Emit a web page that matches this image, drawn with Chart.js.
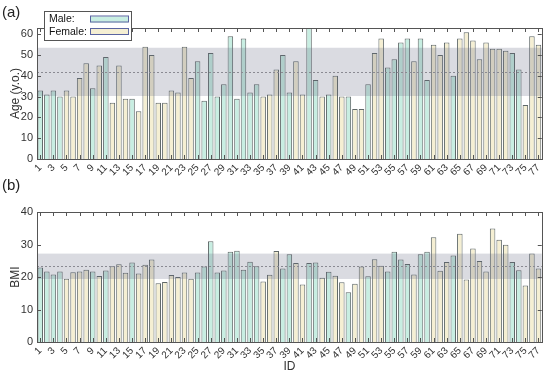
<!DOCTYPE html>
<html>
<head>
<meta charset="utf-8">
<script src="https://cdn.jsdelivr.net/npm/chart.js@4.4.1/dist/chart.umd.min.js"></script>
<style>
  body { margin: 0; background: #fff; }
  #wrap { position: relative; width: 550px; height: 375px; }
  canvas { position: absolute; left: 0; }
  #chartA { top: 0; }
  #chartB { top: 175px; }
</style>
</head>
<body>
<div id="wrap">
  <canvas id="chartA" width="550" height="187"></canvas>
  <canvas id="chartB" width="550" height="200"></canvas>
</div>
<script>
const ids = ['1','2','3','4','5','6','7','8','9','10','11','12','13','14','15','16','17','18','19','20',
  '21','22','23','24','25','26','27','28','29','30','31','32','33','34','35','36','37','38','39','40',
  '41','42','43','44','45','46','47','48','49','50','51','52','53','54','55','56','57','58','59','60',
  '61','62','63','64','65','66','67','68','69','70','71','72','73','74','75','76','77'];

// M = male, F = female
const sex = ['M','M','M','M','F','F','F','F','M','F','M','F','F','F','M','F','F','F','F','F',
  'F','F','F','F','M','M','M','M','M','M','M','M','M','M','F','F','F','M','M','F',
  'F','M','M','F','M','F','F','M','F','F','M','F','F','M','M','M','M','F','M','M',
  'F','F','F','M','F','F','F','F','F','F','F','F','M','M','F','F','F'];

const ageValues = [33,31,33,30,33,30,39,46,34,45,49,27,45,29,29,23,54,50,27,27,
  33,32,54,39,47,28,51,30,36,59,29,58,32,36,30,31,43,50,32,47,
  31,66,38,30,31,40,30,30,24,24,36,51,58,44,48,56,58,47,58,38,
  55,50,56,40,58,61,57,48,56,53,53,52,51,43,26,59,55];

const bmiValues = [22.9,21.7,20.8,21.7,19.5,21.5,21.7,22.2,21.7,20.3,
  22.0,23.3,23.9,21.3,24.5,21.1,23.8,25.4,18.1,18.5,
  20.6,20.0,21.4,19.5,21.4,23.2,31.0,21.4,22.0,27.8,
  28.1,22.2,24.7,23.3,18.6,20.7,28.0,22.6,27.0,24.3,
  17.7,24.3,24.5,19.8,21.6,20.4,18.4,15.3,17.9,23.2,
  20.2,25.5,23.5,21.7,27.8,25.4,24.0,20.8,27.0,27.8,
  32.2,21.9,24.6,26.6,33.3,19.2,28.8,24.9,21.7,34.9,
  31.5,29.9,24.6,22.1,17.4,27.2,22.6];

// mean and band (mean +/- sd)
const ageBand = [30.3, 41.9, 53.5];
const bmiBand = [19.4, 23.3, 27.2];

const ageTicks = [0, 10, 20, 30, 40, 50, 60];
const bmiTicks = [0, 10, 20, 30, 40];

const maleColor = '#c8eee2';
const femaleColor = '#f5efd3';
const edgeColor = '#5f6868';
const font = '"Liberation Sans", Arial, sans-serif';

function bySex(values, s) {
  return values.map((v, i) => sex[i] === s ? v : null);
}

// band, mean line, frame and inward ticks
const decor = {
  id: 'decor',
  afterDatasetsDraw(chart, args, o) {
    const ctx = chart.ctx;
    const a = chart.chartArea;
    const y = chart.scales.y, x = chart.scales.x;
    ctx.save();
    const yTop = y.getPixelForValue(o.band[2]);
    const yBot = y.getPixelForValue(o.band[0]);
    ctx.fillStyle = 'rgba(95,100,125,0.23)';
    ctx.fillRect(a.left, yTop, a.right - a.left, yBot - yTop);
    ctx.strokeStyle = '#8a8a92';
    ctx.lineWidth = 1;
    ctx.setLineDash([2, 2]);
    const ym = Math.round(y.getPixelForValue(o.band[1])) + 0.5;
    ctx.beginPath();
    ctx.moveTo(a.left, ym);
    ctx.lineTo(a.right, ym);
    ctx.stroke();
    ctx.setLineDash([]);
    ctx.strokeStyle = '#555';
    ctx.strokeRect(Math.round(a.left) + 0.5, Math.round(a.top) + 0.5,
      Math.round(a.right - a.left), Math.round(a.bottom - a.top));
    ctx.beginPath();
    ids.forEach((id, i) => {
      if (i % 2 !== 0) return;
      const px = Math.round(x.getPixelForValue(i)) + 0.5;
      ctx.moveTo(px, a.bottom); ctx.lineTo(px, a.bottom - 4);
      ctx.moveTo(px, a.top); ctx.lineTo(px, a.top + 4);
    });
    o.ticks.forEach(t => {
      const py = Math.round(y.getPixelForValue(t)) + 0.5;
      ctx.moveTo(a.left, py); ctx.lineTo(a.left + 4, py);
      ctx.moveTo(a.right, py); ctx.lineTo(a.right - 4, py);
    });
    ctx.stroke();
    ctx.restore();
  },
  afterDraw(chart, args, o) {
    const ctx = chart.ctx;
    ctx.save();
    ctx.fillStyle = '#222';
    ctx.font = '15px ' + font;
    ctx.textBaseline = 'middle';
    ctx.fillText(o.panel, 2, o.panelY);
    if (o.legend) {
      ctx.fillStyle = '#fff';
      ctx.fillRect(44, 11, 87, 29);
      ctx.strokeStyle = '#555';
      ctx.strokeRect(44.5, 11.5, 87, 29);
      ctx.font = '10.5px ' + font;
      chart.data.datasets.forEach((ds, i) => {
        const yy = 19.5 + i * 12.5;
        ctx.fillStyle = '#111';
        ctx.fillText(ds.label + ':', 49, yy);
        ctx.fillStyle = ds.backgroundColor;
        ctx.fillRect(90, yy - 3, 38, 6);
        ctx.strokeStyle = '#5a64a0';
        ctx.strokeRect(90.5, yy - 3.5, 38, 6);
      });
    }
    ctx.restore();
  }
};

function makeChart(el, values, cfg) {
  return new Chart(document.getElementById(el), {
    type: 'bar',
    data: {
      labels: ids,
      datasets: [
        { label: 'Male', data: bySex(values, 'M'), backgroundColor: maleColor,
          borderColor: edgeColor, borderWidth: 1 },
        { label: 'Female', data: bySex(values, 'F'), backgroundColor: femaleColor,
          borderColor: edgeColor, borderWidth: 1 }
      ]
    },
    options: {
      responsive: false,
      animation: false,
      events: [],
      grouped: false,
      categoryPercentage: 1,
      barPercentage: 0.84,
      layout: { padding: cfg.padding },
      plugins: {
        legend: { display: false },
        tooltip: { enabled: false },
        decor: { band: cfg.band, ticks: cfg.ticks, panel: cfg.panel, panelY: cfg.panelY, legend: cfg.legend }
      },
      scales: {
        x: {
          grid: { display: false, drawTicks: false },
          border: { display: false },
          title: { display: !!cfg.xTitle, text: cfg.xTitle, color: '#333',
            font: { size: 12, family: font }, padding: { top: 0, bottom: 1 } },
          ticks: {
            autoSkip: false, maxRotation: 45, minRotation: 45, padding: 3,
            color: '#333', font: { size: 10, family: font },
            callback: (v, i) => i % 2 === 0 ? ids[i] : ''
          },
          afterFit: s => { s.height = cfg.xHeight; }
        },
        y: {
          min: 0, max: cfg.max,
          grid: { display: false, drawTicks: false },
          border: { display: false },
          title: { display: true, text: cfg.yTitle, color: '#333',
            font: { size: 12, family: font }, padding: { top: 8, bottom: 0 } },
          ticks: {
            padding: 4, color: '#333',
            font: { size: 11, family: font }
          },
          afterBuildTicks: s => { s.ticks = cfg.ticks.map(v => ({ value: v })); },
          afterFit: s => { s.width = 37; }
        }
      }
    },
    plugins: [decor]
  });
}

makeChart('chartA', ageValues, {
  padding: { top: 28, right: 5, left: 0, bottom: 0 },
  xHeight: 28, max: 63, band: ageBand, ticks: ageTicks,
  yTitle: 'Age (y.o.)', panel: '(a)', panelY: 13, legend: true
});

makeChart('chartB', bmiValues, {
  padding: { top: 37, right: 5, left: 0, bottom: 0 },
  xHeight: 33, max: 40, band: bmiBand, ticks: bmiTicks,
  yTitle: 'BMI', xTitle: 'ID', panel: '(b)', panelY: 11, legend: false
});
</script>
</body>
</html>
